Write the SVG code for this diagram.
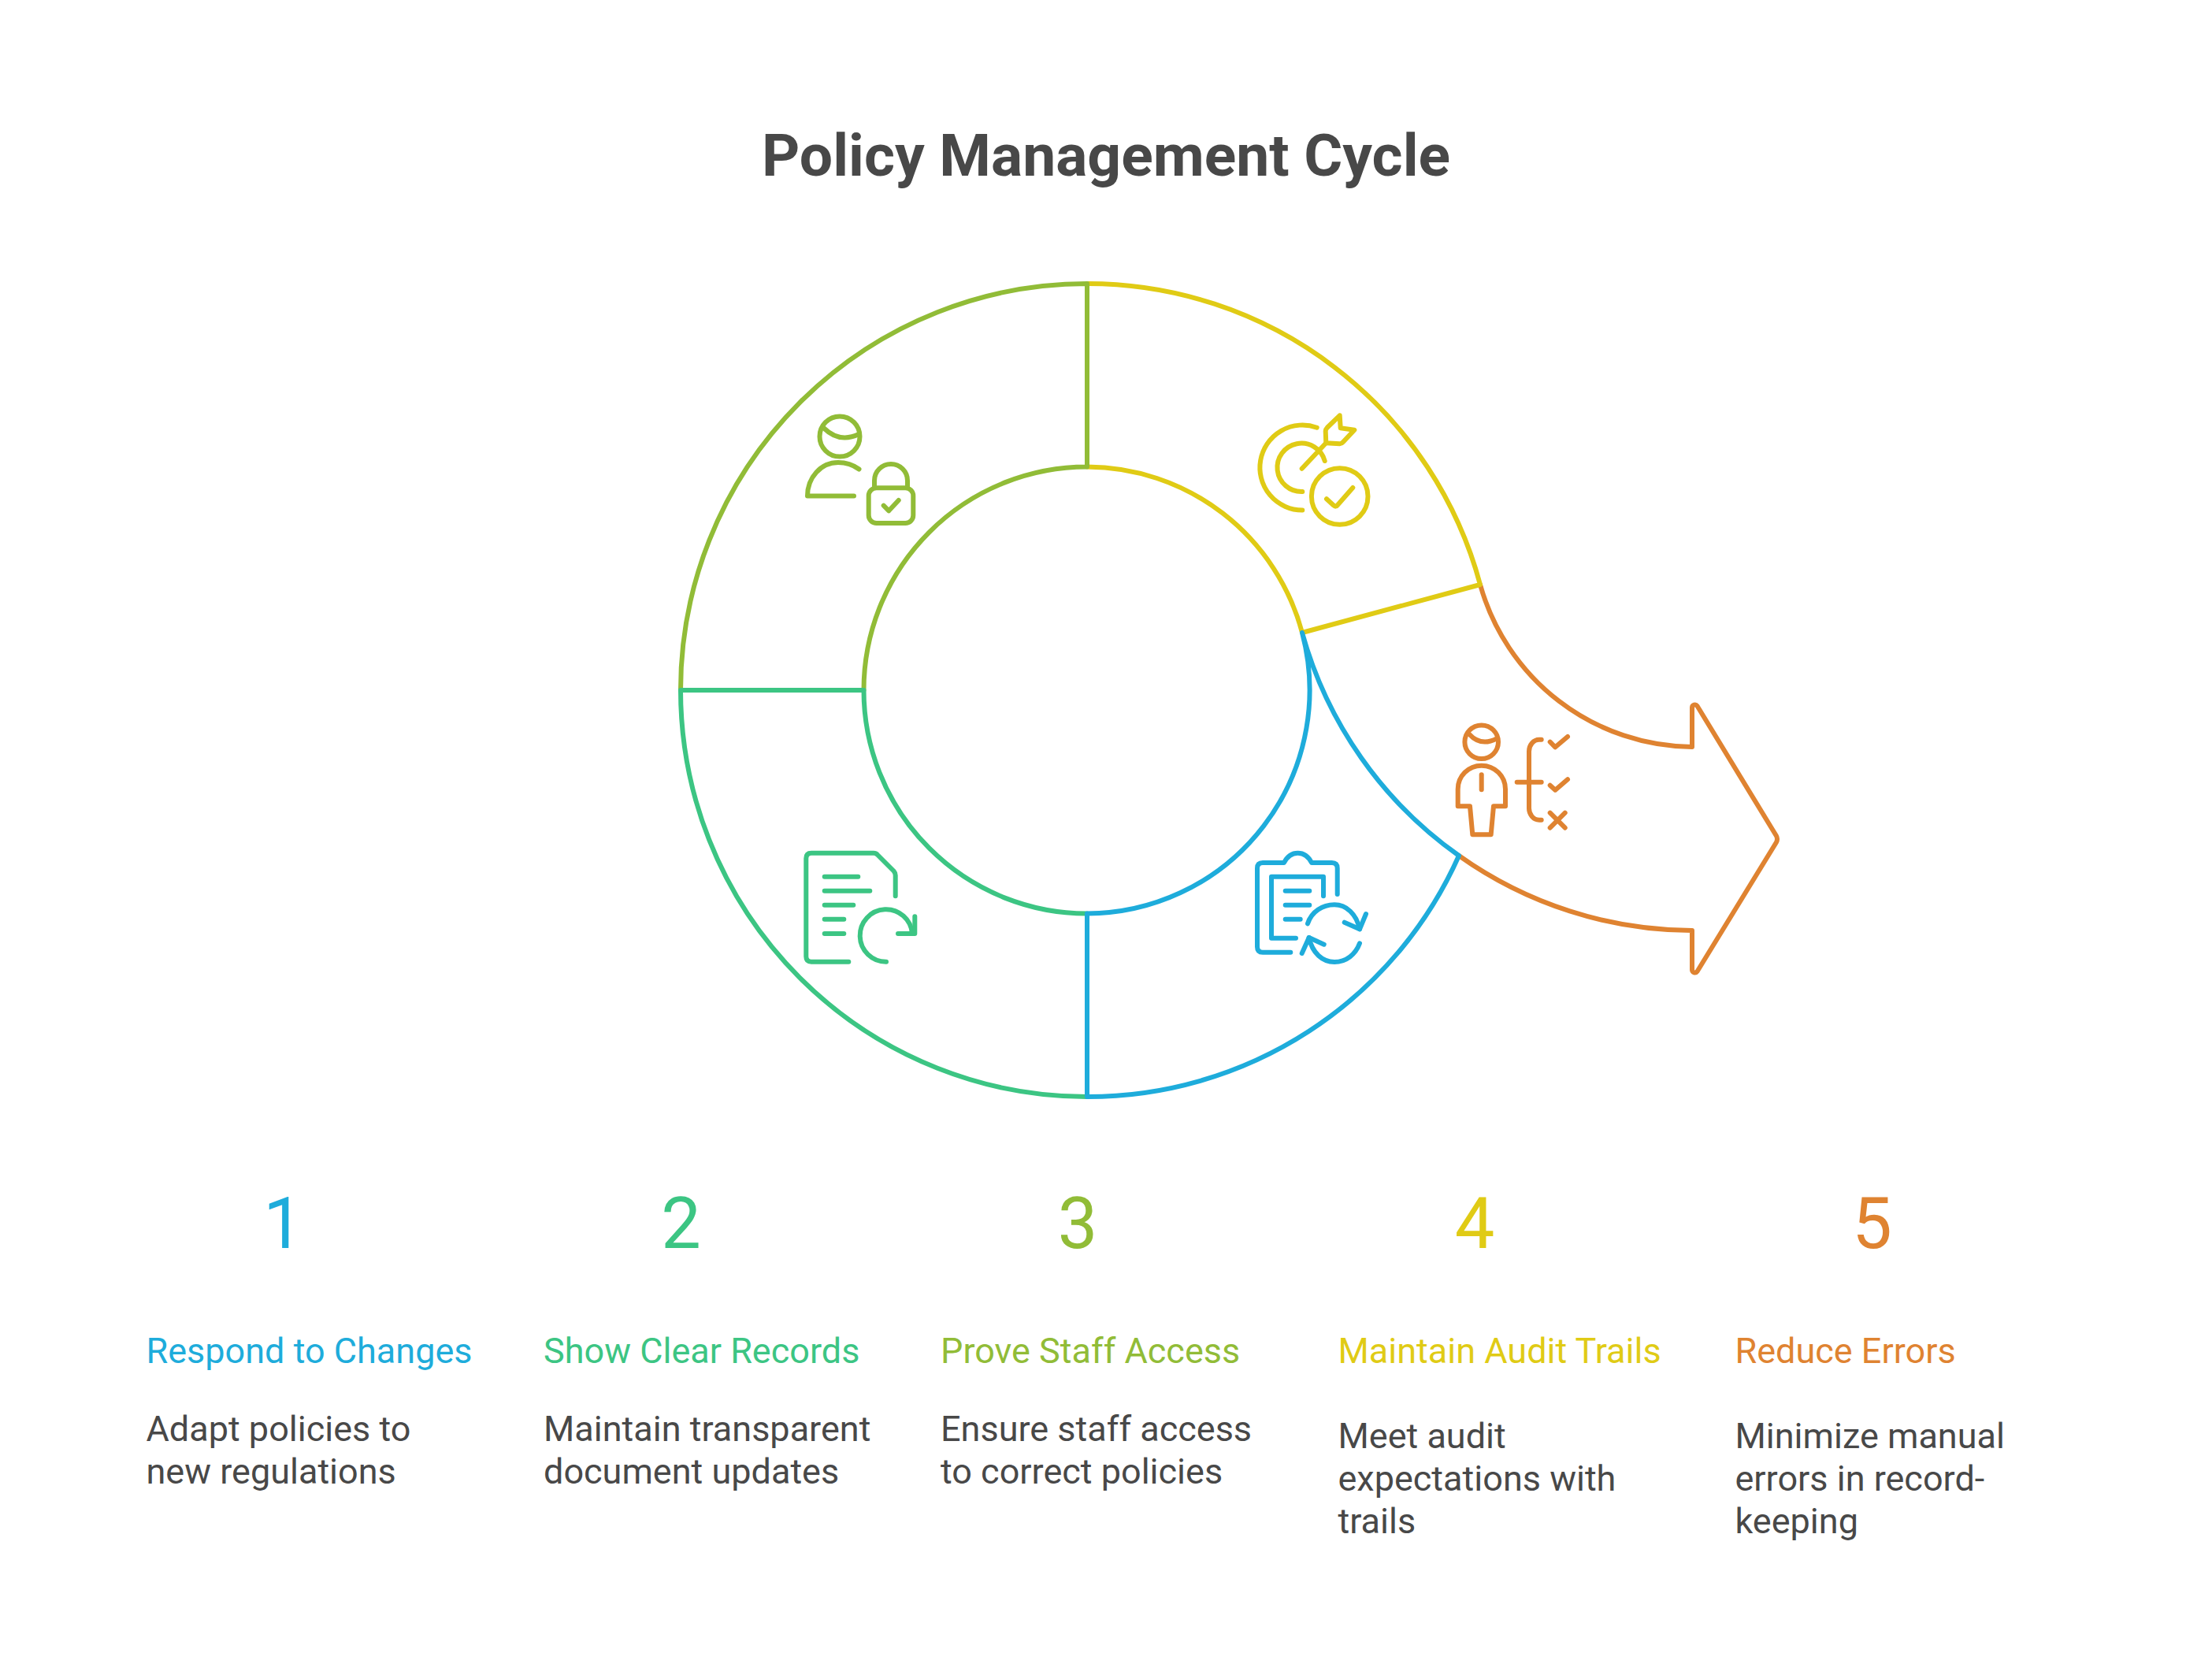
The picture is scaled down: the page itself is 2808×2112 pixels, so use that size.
<svg xmlns="http://www.w3.org/2000/svg" width="2808" height="2112" viewBox="0 0 2808 2112">
<style>
text{font-family:Roboto,"Liberation Sans",sans-serif}
.s{fill:none;stroke-width:6;stroke-linecap:round;stroke-linejoin:round}
.title{font-size:75px;font-weight:700;fill:#484848;text-anchor:middle}
.num{font-size:90px;text-anchor:middle}
.head{font-size:45px}
.body{font-size:45px;fill:#484848}
.c1{stroke:#1EACDB}.c2{stroke:#3CC583}.c3{stroke:#91BC37}.c4{stroke:#E0CB15}.c5{stroke:#DF8331}
.t1{fill:#1EACDB}.t2{fill:#3CC583}.t3{fill:#91BC37}.t4{fill:#E0CB15}.t5{fill:#DF8331}
</style>
<rect width="2808" height="2112" fill="#ffffff"/>
<text class="title" x="1404" y="223">Policy Management Cycle</text>
<g id="step5">
<g class="s c5">
<path d="M1879,742 A282,282 0 0 0 2148,948 V898 A3.6,3.6 0 0 1 2154.5,896 L2255,1061 Q2257,1065 2255,1069 L2154.5,1233 A3.6,3.6 0 0 1 2148,1231 V1181 A514,514 0 0 1 1852,1086"/>
<path d="M1865,931.7 Q1880,948 1900,937.3"/>
<circle cx="1880.7" cy="941.7" r="21.3"/>
<path d="M1850.7,1023.3 V1001.7 C1850.7,985 1864,971.7 1880.7,971.7 C1897.5,971.7 1911,985 1911,1001.7 V1023.3 H1896 L1892.7,1059.3 H1869.3 L1866,1023.3 Z"/>
<path d="M1880.7,983.3 V1002.3"/>
<path d="M1925.7,992.7 H1956.7 M1956.7,938.7 H1954 A13,15 0 0 0 1941,954 V1025 A13,15 0 0 0 1954,1040.7 H1956.7"/>
<path d="M1967.7,941.7 L1974.3,948.3 L1990,935 M1967.7,996.7 L1974.3,1002.7 L1990,989.3 M1967.7,1031.7 L1986.7,1050.7 M1986.7,1031.7 L1967.7,1050.7"/>
</g>
<text class="num t5" x="2376.5" y="1584">5</text>
<text class="head t5" x="2202.5" y="1730">Reduce Errors</text>
<text class="body" x="2202.5" y="1838">Minimize manual</text>
<text class="body" x="2202.5" y="1892">errors in record-</text>
<text class="body" x="2202.5" y="1946">keeping</text>
</g>
<g id="step4">
<g class="s c4">
<path d="M1380,360 A516,516 0 0 1 1879,742 L1653,803 A283.5,283.5 0 0 0 1380,592.5"/>
<path d="M1671.7,542.7 A54,54 0 1 0 1653.3,647.5"/>
<path d="M1681.7,585 A30.7,30.7 0 1 0 1653.3,624"/>
<path d="M1652.7,594.7 L1683.3,562.3"/>
<path d="M1683.3,562.3 L1700.7,563.3 Q1703,563.3 1705,561 L1719.3,545.7 L1701.7,543.3 L1700.7,527.3 L1685,542.5 Q1682.7,545 1682.7,547 Z"/>
<circle cx="1700.7" cy="630" r="35.8"/>
<path d="M1684,633.3 L1693,641.5 Q1695.5,644 1698,641 L1717.3,619"/>
</g>
<text class="num t4" x="1872" y="1584">4</text>
<text class="head t4" x="1698.5" y="1730">Maintain Audit Trails</text>
<text class="body" x="1698.5" y="1838">Meet audit</text>
<text class="body" x="1698.5" y="1892">expectations with</text>
<text class="body" x="1698.5" y="1946">trails</text>
</g>
<g id="step3">
<g class="s c3">
<path d="M1380,592.5 V360 A516,516 0 0 0 864,876 H1096.5 A283.5,283.5 0 0 1 1380,592.5 Z"/>
<circle cx="1066" cy="554" r="25.5"/>
<path d="M1046,543.5 Q1066,563 1090.7,550.7"/>
<path d="M1090.5,595.5 C1083,590 1074,587 1064,587 C1042,587 1025,606 1025,629.5 H1084"/>
<rect x="1102.7" y="619.3" width="56.6" height="44.7" rx="10"/>
<path d="M1110,618 V610 A20.8,20.8 0 0 1 1152,610 V618"/>
<path d="M1121.7,641.7 L1128.3,648.3 L1140.7,635"/>
</g>
<text class="num t3" x="1368" y="1584">3</text>
<text class="head t3" x="1194" y="1730">Prove Staff Access</text>
<text class="body" x="1194" y="1829">Ensure staff access</text>
<text class="body" x="1194" y="1883">to correct policies</text>
</g>
<g id="step2">
<g class="s c2">
<path d="M864,876 A516,516 0 0 0 1380,1392 V1159.5 A283.5,283.5 0 0 1 1096.5,876 Z"/>
<path d="M1077.3,1220.7 H1030 Q1023.3,1220.7 1023.3,1214 V1089.5 Q1023.3,1082.7 1030,1082.7 H1109 Q1112,1082.7 1114,1085 L1134.5,1105.5 Q1136.7,1108 1136.7,1111 V1137.3"/>
<path d="M1046.7,1112.7 H1089.3 M1046.7,1130.7 H1104.3 M1046.7,1148.7 H1083.3 M1046.7,1166.7 H1071.3 M1046.7,1185 H1071.3"/>
<path d="M1125,1220.7 A33.2,33.2 0 1 1 1158,1185"/>
<path d="M1140,1185 H1161.3 V1163.3"/>
</g>
<text class="num t2" x="864.5" y="1584">2</text>
<text class="head t2" x="690" y="1730">Show Clear Records</text>
<text class="body" x="690" y="1829">Maintain transparent</text>
<text class="body" x="690" y="1883">document updates</text>
</g>
<g id="step1">
<g class="s c1">
<path d="M1653,803 A283.5,283.5 0 0 1 1380,1159.5 V1392 A516,516 0 0 0 1852,1086 A514,514 0 0 1 1653,803 Z"/>
<path d="M1638.3,1208.7 H1603 Q1596,1208.7 1596,1201.7 V1102 Q1596,1095 1603,1095 H1630 C1634,1087 1640,1082.7 1647.5,1082.7 C1655,1082.7 1661,1087 1665,1095 H1690.7 Q1697.7,1095 1697.7,1102 V1135"/>
<path d="M1645,1190.7 H1614 V1112.7 H1680 V1137.3"/>
<path d="M1631.7,1130.7 H1662.3 M1631.7,1148.7 H1662.3 M1631.7,1166.7 H1650.7"/>
<path d="M1660,1172.3 C1665,1157 1679,1148.3 1694,1148.3 C1709,1148.3 1722,1160 1726,1179.3"/>
<path d="M1706.7,1170.7 L1726,1179.3 L1734,1160"/>
<path d="M1726,1197.3 C1721,1211 1709,1221 1694,1221 C1679,1221 1666,1210 1661.7,1190"/>
<path d="M1680.7,1198.7 L1661.7,1190 L1652.7,1210"/>
</g>
<text class="num t1" x="359.5" y="1584">1</text>
<text class="head t1" x="185.5" y="1730">Respond to Changes</text>
<text class="body" x="185.5" y="1829">Adapt policies to</text>
<text class="body" x="185.5" y="1883">new regulations</text>
</g>
</svg>
